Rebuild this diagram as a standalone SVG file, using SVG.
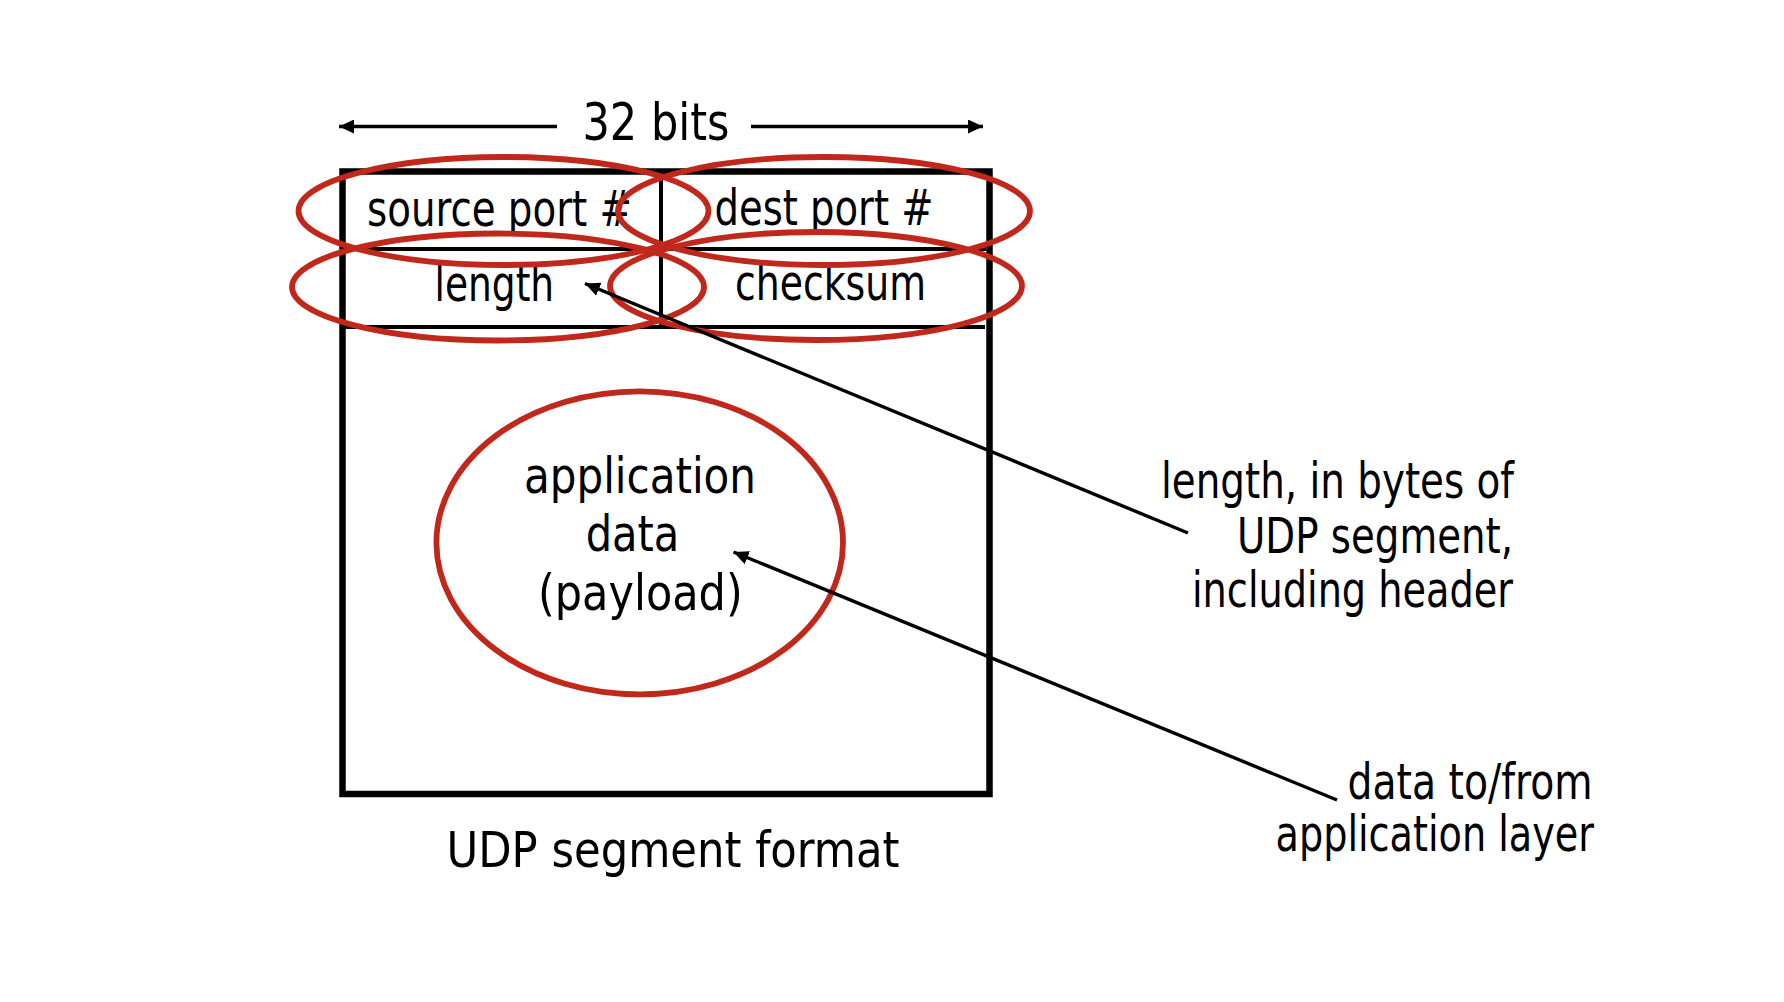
<svg xmlns="http://www.w3.org/2000/svg" width="1784" height="1002" viewBox="0 0 1784 1002">
<style>
.t{font-family:"DejaVu Sans Condensed","DejaVu Sans",sans-serif;fill:#000;font-size:49px}
.hl{fill:none;stroke:#C1281C;stroke-width:5.8}
.ln{stroke:#000;stroke-width:4;fill:none}
.cn{stroke:#000;stroke-width:3.4;fill:none;marker-end:url(#ah)}
</style>
<defs>
<marker id="ah" markerUnits="userSpaceOnUse" markerWidth="16" markerHeight="14" refX="15" refY="7" orient="auto">
<path d="M0,0 L15,7 L0,14 z" fill="#000"/>
</marker>
</defs>
<rect width="1784" height="1002" fill="#fff"/>
<g id="width-label">
<line class="cn" x1="557" y1="126.5" x2="339" y2="126.5"/>
<line class="cn" x1="751" y1="126.5" x2="983" y2="126.5"/>
<text class="t" x="582.5" y="140" style="font-size:52px" textLength="147" lengthAdjust="spacingAndGlyphs">32 bits</text>
</g>
<g id="segment">
<rect x="342.5" y="171.5" width="647" height="622.5" fill="none" stroke="#000" stroke-width="6.5"/>
<line class="ln" x1="342" y1="249" x2="986" y2="249"/>
<line class="ln" x1="342" y1="327" x2="985" y2="327"/>
<line class="ln" x1="661" y1="171" x2="661" y2="327"/>
</g>
<g id="source-port"><text class="t" x="367" y="226" textLength="265" lengthAdjust="spacingAndGlyphs">source port #</text></g>
<g id="dest-port"><text class="t" x="714.5" y="225" textLength="219" lengthAdjust="spacingAndGlyphs">dest port #</text></g>
<g id="length"><text class="t" x="434.6" y="301" textLength="119.5" lengthAdjust="spacingAndGlyphs">length</text></g>
<g id="checksum"><text class="t" x="735" y="300" textLength="191" lengthAdjust="spacingAndGlyphs">checksum</text></g>
<g id="payload">
<text class="t" x="524" y="493" textLength="232" lengthAdjust="spacingAndGlyphs">application</text>
<text class="t" x="585.7" y="551" textLength="93.6" lengthAdjust="spacingAndGlyphs">data</text>
<text class="t" x="538" y="610" textLength="204.7" lengthAdjust="spacingAndGlyphs">(payload)</text>
</g>
<g id="highlights">
<ellipse class="hl" cx="503.5" cy="211" rx="205" ry="54"/>
<ellipse class="hl" cx="824" cy="211" rx="206" ry="54"/>
<ellipse class="hl" cx="498" cy="287" rx="206" ry="53.5"/>
<ellipse class="hl" cx="816" cy="286" rx="206" ry="54"/>
<ellipse class="hl" cx="639.7" cy="542.8" rx="203.3" ry="151.5"/>
</g>
<g id="caption"><text class="t" x="446.5" y="867" textLength="453" lengthAdjust="spacingAndGlyphs">UDP segment format</text></g>
<g id="length-note">
<text class="t" x="1161" y="498" textLength="353" lengthAdjust="spacingAndGlyphs">length, in bytes of</text>
<text class="t" x="1237" y="553" textLength="276" lengthAdjust="spacingAndGlyphs">UDP segment,</text>
<text class="t" x="1192" y="607" textLength="321" lengthAdjust="spacingAndGlyphs">including header</text>
</g>
<g id="data-note">
<text class="t" x="1347.5" y="799" textLength="245" lengthAdjust="spacingAndGlyphs">data to/from</text>
<text class="t" x="1275.5" y="851" textLength="318.5" lengthAdjust="spacingAndGlyphs">application layer</text>
</g>
<g id="connectors">
<line class="cn" x1="1188" y1="533" x2="585" y2="283.5"/>
<line class="cn" x1="1337" y1="800" x2="733.5" y2="552"/>
</g>
</svg>
